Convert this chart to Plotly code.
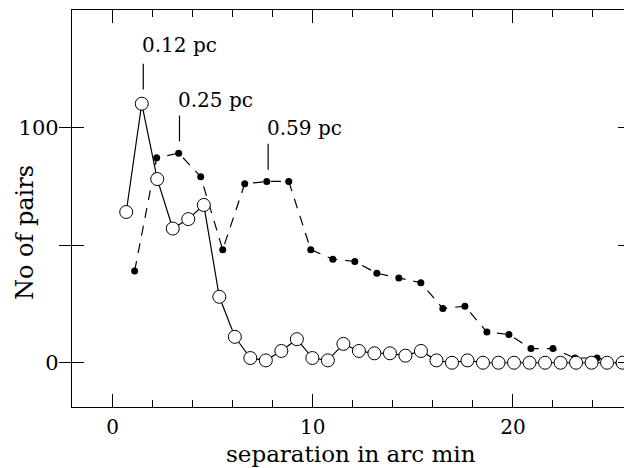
import plotly.graph_objects as go

# Open circles (solid line)
sep_open = [0.68 + 0.775 * i for i in range(33)]
pairs_open = [64, 110, 78, 57, 61, 67, 28, 11, 2, 1, 5, 10, 2, 1, 8, 5, 4, 4, 3, 5,
              1, 0, 1, 0, 0, 0, 0, 0, 0, 0, 0, 0, 0]

# Filled dots (dashed line)
sep_fill = [1.1 * (i + 1) for i in range(23)]
pairs_fill = [39, 87, 89, 79, 48, 76, 77, 77, 48, 44, 43, 38, 36, 34, 23, 24, 13, 12,
              6, 6, 2, 2, 0]

# Scale annotations: (label, x, line bottom, line top, text y)
ann_labels = ["0.12 pc", "0.25 pc", "0.59 pc"]
ann_x = [1.53, 3.34, 7.77]
ann_y0 = [116, 94, 82]
ann_y1 = [127, 105, 93]
ann_ty = [135, 111.5, 99.6]

FONT = "DejaVu Serif"

fig = go.Figure()
fig.add_trace(go.Scatter(
    x=sep_fill, y=pairs_fill, mode="lines+markers",
    line=dict(color="black", width=1.2, dash="10px,8px"),
    marker=dict(symbol="circle", size=7, color="black"),
    showlegend=False))
fig.add_trace(go.Scatter(
    x=sep_open, y=pairs_open, mode="lines+markers",
    line=dict(color="black", width=1.2),
    marker=dict(symbol="circle", size=13, color="white",
                line=dict(color="black", width=1)),
    showlegend=False))

for lab, x, y0, y1, ty in zip(ann_labels, ann_x, ann_y0, ann_y1, ann_ty):
    fig.add_shape(type="line", x0=x, x1=x, y0=y0, y1=y1,
                  line=dict(color="black", width=1.2))
    fig.add_annotation(x=x, y=ty, text=lab, showarrow=False,
                       xanchor="left", yanchor="middle", xshift=-3,
                       font=dict(family=FONT, size=20, color="black"))

# axis titles as annotations for exact placement
fig.add_annotation(xref="paper", yref="paper", x=0.5, y=0, yshift=-47,
                   xanchor="center", yanchor="middle", showarrow=False,
                   text="separation in arc min",
                   font=dict(family=FONT, size=23, color="black"))
fig.add_annotation(xref="paper", yref="paper", x=0, y=0.438, xshift=-47,
                   xanchor="center", yanchor="middle", showarrow=False,
                   textangle=-90, text="No of pairs",
                   font=dict(family=FONT, size=24, color="black"))

XR = [-2.03, 25.85]
fig.update_xaxes(
    range=XR, showgrid=False, zeroline=False, automargin=False,
    showline=True, linecolor="black", linewidth=1.2, mirror=True,
    ticks="inside", ticklen=13, tickwidth=1, tickcolor="black",
    tickvals=[0, 10, 20], ticktext=["0", "10", "20"],
    minor=dict(tickvals=[2, 4, 6, 8, 12, 14, 16, 18, 22, 24], ticks="inside",
               ticklen=7, tickwidth=1, tickcolor="black"),
    tickfont=dict(family=FONT, size=20, color="black"),
    ticklabelstandoff=2,
)
fig.update_yaxes(
    range=[-18.8, 149.8], showgrid=False, zeroline=False, automargin=False,
    showline=True, linecolor="black", linewidth=1.2, mirror="allticks",
    ticks="inside", ticklen=12, tickwidth=1, tickcolor="black",
    tickvals=[0, 50, 100], ticktext=["0", "", "100"],
    tickfont=dict(family=FONT, size=21, color="black"),
    ticklabelstandoff=8,
)
# top axis ticks (mirror of bottom, incl. minor)
fig.update_layout(
    xaxis2=dict(overlaying="x", side="top", range=XR, showgrid=False, zeroline=False,
                automargin=False, showticklabels=False, showline=False,
                ticks="inside", ticklen=13, tickwidth=1, tickcolor="black",
                tickvals=[0, 10, 20],
                minor=dict(tickvals=[2, 4, 6, 8, 12, 14, 16, 18, 22, 24], ticks="inside",
                           ticklen=7, tickwidth=1, tickcolor="black")),
)
fig.add_trace(go.Scatter(x=[None], y=[None], xaxis="x2", showlegend=False))
# page body has an 8px margin: shrink figure so the plot lands where the reference has it
fig.update_layout(
    width=624, height=460,
    margin=dict(l=64, r=2, t=2, b=61),
    plot_bgcolor="white", paper_bgcolor="white",
)
fig.write_html("out.html")
